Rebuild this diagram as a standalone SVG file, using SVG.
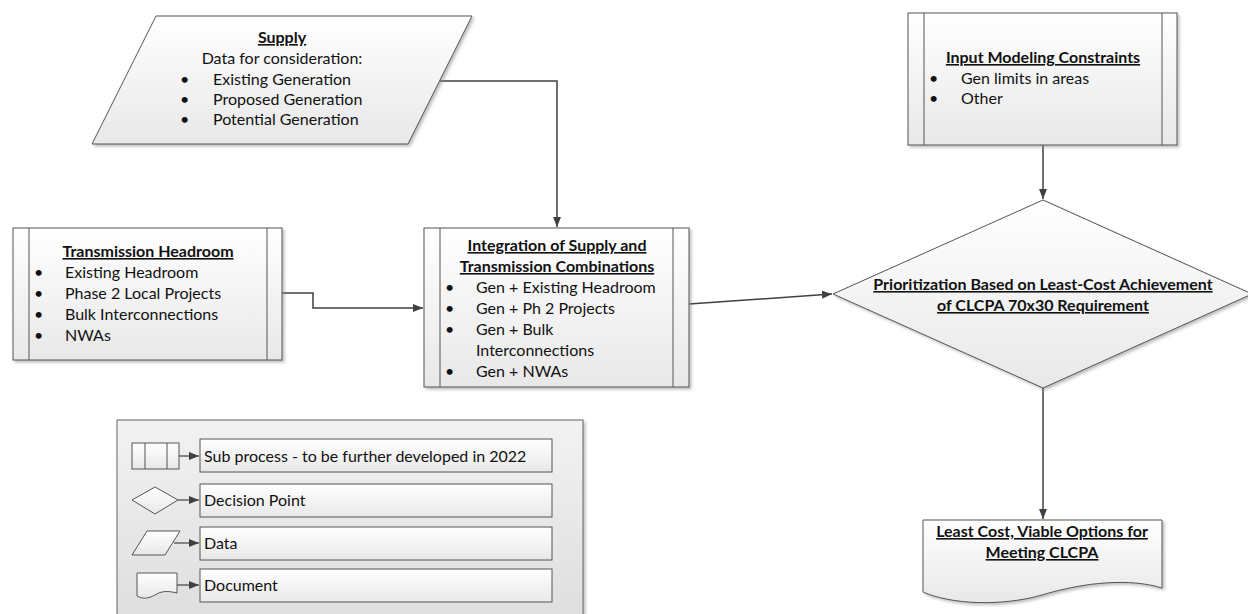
<svg xmlns="http://www.w3.org/2000/svg" width="1248" height="614" viewBox="0 0 1248 614">
<defs>
<linearGradient id="g" x1="0" y1="0" x2="0" y2="1">
<stop offset="0" stop-color="#ffffff"/>
<stop offset="1" stop-color="#e8e8e8"/>
</linearGradient>
<linearGradient id="lg" x1="0" y1="0" x2="0" y2="1">
<stop offset="0" stop-color="#f2f2f2"/>
<stop offset="1" stop-color="#dedede"/>
</linearGradient>
<filter id="sh" x="-5%" y="-5%" width="115%" height="120%">
<feDropShadow dx="2" dy="2" stdDeviation="1.5" flood-color="#888" flood-opacity="0.55"/>
</filter>
<marker id="ah" viewBox="0 0 10 10" refX="10" refY="5" markerWidth="10" markerHeight="10" markerUnits="userSpaceOnUse" orient="auto">
<path d="M0,1 L10,5 L0,9 Z" fill="#404040"/>
</marker>
</defs>
<style>
.sh{fill:url(#g);stroke:#555;stroke-width:1;filter:url(#sh)}
.ln{fill:none;stroke:#555;stroke-width:1}
.t{font-family:Lato,"Liberation Sans",sans-serif;font-size:16px;fill:#111}
.b{font-weight:bold;text-decoration:underline}
.m{text-anchor:middle}
.c{fill:none;stroke:#404040;stroke-width:1.5;marker-end:url(#ah)}
.lc{fill:none;stroke:#404040;stroke-width:1.2;marker-end:url(#ah)}
.lb{fill:url(#g);stroke:#555;stroke-width:1}
</style>

<g id="connectors">
<path class="c" d="M440,81 H557 V227"/>
<path class="c" d="M282,293 H313 V308 H423"/>
<path class="c" d="M689,304 L832,294"/>
<path class="c" d="M1043,145 V199"/>
<path class="c" d="M1043,388 V519"/>
</g>

<g id="supply">
<path class="sh" d="M156,16 H472 L408,144 H92 Z"/>
<text class="t b m" x="282" y="43">Supply</text>
<text class="t m" x="282" y="64">Data for consideration:</text>
<text class="t" x="180" y="85">•</text><text class="t" x="213" y="85">Existing Generation</text>
<text class="t" x="180" y="105">•</text><text class="t" x="213" y="105">Proposed Generation</text>
<text class="t" x="180" y="125">•</text><text class="t" x="213" y="125">Potential Generation</text>
</g>

<g id="transmission">
<rect class="sh" x="13" y="228" width="269" height="132"/>
<path class="ln" d="M29,228 V360 M267,228 V360"/>
<text class="t b m" x="148" y="257">Transmission Headroom</text>
<text class="t" x="34" y="278">•</text><text class="t" x="65" y="278">Existing Headroom</text>
<text class="t" x="34" y="299">•</text><text class="t" x="65" y="299">Phase 2 Local Projects</text>
<text class="t" x="34" y="320">•</text><text class="t" x="65" y="320">Bulk Interconnections</text>
<text class="t" x="34" y="341">•</text><text class="t" x="65" y="341">NWAs</text>
</g>

<g id="integration">
<rect class="sh" x="424" y="228" width="265" height="159"/>
<path class="ln" d="M440,228 V387 M673,228 V387"/>
<text class="t b m" x="557" y="251">Integration of Supply and</text>
<text class="t b m" x="557" y="272">Transmission Combinations</text>
<text class="t" x="445" y="293">•</text><text class="t" x="476" y="293">Gen + Existing Headroom</text>
<text class="t" x="445" y="314">•</text><text class="t" x="476" y="314">Gen + Ph 2 Projects</text>
<text class="t" x="445" y="335">•</text><text class="t" x="476" y="335">Gen + Bulk</text>
<text class="t" x="476" y="356">Interconnections</text>
<text class="t" x="445" y="377">•</text><text class="t" x="476" y="377">Gen + NWAs</text>
</g>

<g id="constraints">
<rect class="sh" x="908" y="13" width="269" height="132"/>
<path class="ln" d="M924,13 V145 M1162,13 V145"/>
<text class="t b m" x="1043" y="63">Input Modeling Constraints</text>
<text class="t" x="929" y="84">•</text><text class="t" x="961" y="84">Gen limits in areas</text>
<text class="t" x="929" y="104">•</text><text class="t" x="961" y="104">Other</text>
</g>

<g id="decision">
<path class="sh" d="M1043,200 L1252,294 L1043,388 L833,294 Z"/>
<text class="t b m" x="1043" y="290">Prioritization Based on Least-Cost Achievement</text>
<text class="t b m" x="1043" y="311">of CLCPA 70x30 Requirement</text>
</g>

<g id="document">
<path class="sh" d="M923,520 H1162 V588 C1130,578 1085,582 1042,595 C1000,607 950,604 923,592 Z"/>
<text class="t b m" x="1042" y="537">Least Cost, Viable Options for</text>
<text class="t b m" x="1042" y="558">Meeting CLCPA</text>
</g>

<g id="legend">
<rect x="117" y="420" width="466" height="200" fill="url(#lg)" stroke="#666" stroke-width="1" filter="url(#sh)"/>
<rect class="lb" x="200" y="439" width="352" height="33"/>
<rect class="lb" x="200" y="484" width="352" height="33"/>
<rect class="lb" x="200" y="527" width="352" height="33"/>
<rect class="lb" x="200" y="569" width="352" height="33"/>
<rect class="lb" x="132" y="443" width="47" height="26"/>
<path class="ln" d="M145,443 V469 M167,443 V469"/>
<path class="lb" d="M132,500 L155,487 L178,500 L155,514 Z"/>
<path class="lb" d="M147,531 H180 L165,555 H132 Z"/>
<path class="lb" d="M137,573 H177 V593 C165,590 160,592 155,595 C148,599 142,599 137,596 Z"/>
<path class="lc" d="M179,456 H199"/>
<path class="lc" d="M178,500 H199"/>
<path class="lc" d="M174,543 H199"/>
<path class="lc" d="M177,585 H199"/>
<text class="t" x="204" y="462">Sub process - to be further developed in 2022</text>
<text class="t" x="204" y="506">Decision Point</text>
<text class="t" x="204" y="549">Data</text>
<text class="t" x="204" y="591">Document</text>
</g>
</svg>
